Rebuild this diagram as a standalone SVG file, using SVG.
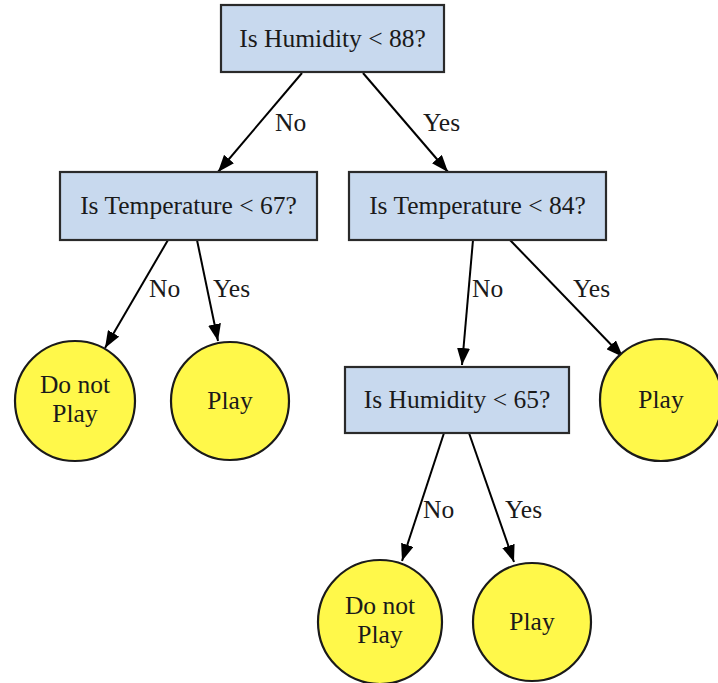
<svg xmlns="http://www.w3.org/2000/svg" width="718" height="683" viewBox="0 0 718 683">
<style>
.box{fill:#c8d9ee;stroke:#2a2a2a;stroke-width:2.2}
.leaf{fill:#fff84a;stroke:#1a1a1a;stroke-width:2.2}
text{font-family:"Liberation Serif","Times New Roman",serif;font-size:25.5px;fill:#1a1a1a}
.c{text-anchor:middle}
.edge{stroke:#000;stroke-width:2;fill:none;marker-end:url(#arr)}
</style>
<defs>
<marker id="arr" markerUnits="userSpaceOnUse" markerWidth="17" markerHeight="13" refX="17" refY="6.5" orient="auto">
<path d="M0,0 L17,6.5 L0,13 z" fill="#000"/>
</marker>
</defs>
<rect width="718" height="683" fill="#fff"/>
<g id="connectors">
<line class="edge" x1="302" y1="73" x2="218" y2="172"/>
<line class="edge" x1="363" y1="73" x2="448" y2="172"/>
<line class="edge" x1="168" y1="240" x2="105" y2="348"/>
<line class="edge" x1="197" y1="240" x2="218" y2="341"/>
<line class="edge" x1="473" y1="240" x2="462" y2="365"/>
<line class="edge" x1="510" y1="240" x2="623" y2="357"/>
<line class="edge" x1="444" y1="433" x2="402" y2="561"/>
<line class="edge" x1="469" y1="433" x2="514" y2="562"/>
<text x="275" y="131">No</text>
<text x="423" y="131">Yes</text>
<text x="149" y="297">No</text>
<text x="213" y="297">Yes</text>
<text x="472" y="297">No</text>
<text x="573" y="297">Yes</text>
<text x="423" y="518">No</text>
<text x="505" y="518">Yes</text>
</g>
<g id="n_hum88">
<rect class="box" x="221" y="5" width="223" height="67"/>
<text class="c" x="332.5" y="47">Is Humidity &lt; 88?</text>
</g>
<g id="n_temp67">
<rect class="box" x="60" y="172" width="257" height="68"/>
<text class="c" x="188.5" y="214">Is Temperature &lt; 67?</text>
</g>
<g id="n_temp84">
<rect class="box" x="349" y="172" width="257" height="68"/>
<text class="c" x="477.5" y="214">Is Temperature &lt; 84?</text>
</g>
<g id="n_hum65">
<rect class="box" x="345" y="367" width="224" height="66"/>
<text class="c" x="457" y="408">Is Humidity &lt; 65?</text>
</g>
<g id="leaf_dnp1">
<circle class="leaf" cx="75" cy="401" r="60"/>
<text class="c" x="75" y="393">Do not</text>
<text class="c" x="75" y="422">Play</text>
</g>
<g id="leaf_play1">
<circle class="leaf" cx="230" cy="401" r="59"/>
<text class="c" x="230" y="409">Play</text>
</g>
<g id="leaf_play2">
<circle class="leaf" cx="661" cy="400" r="61"/>
<text class="c" x="661" y="408">Play</text>
</g>
<g id="leaf_dnp2">
<circle class="leaf" cx="380" cy="622" r="62"/>
<text class="c" x="380" y="614">Do not</text>
<text class="c" x="380" y="643">Play</text>
</g>
<g id="leaf_play3">
<circle class="leaf" cx="532" cy="622" r="59"/>
<text class="c" x="532" y="630">Play</text>
</g>
</svg>
